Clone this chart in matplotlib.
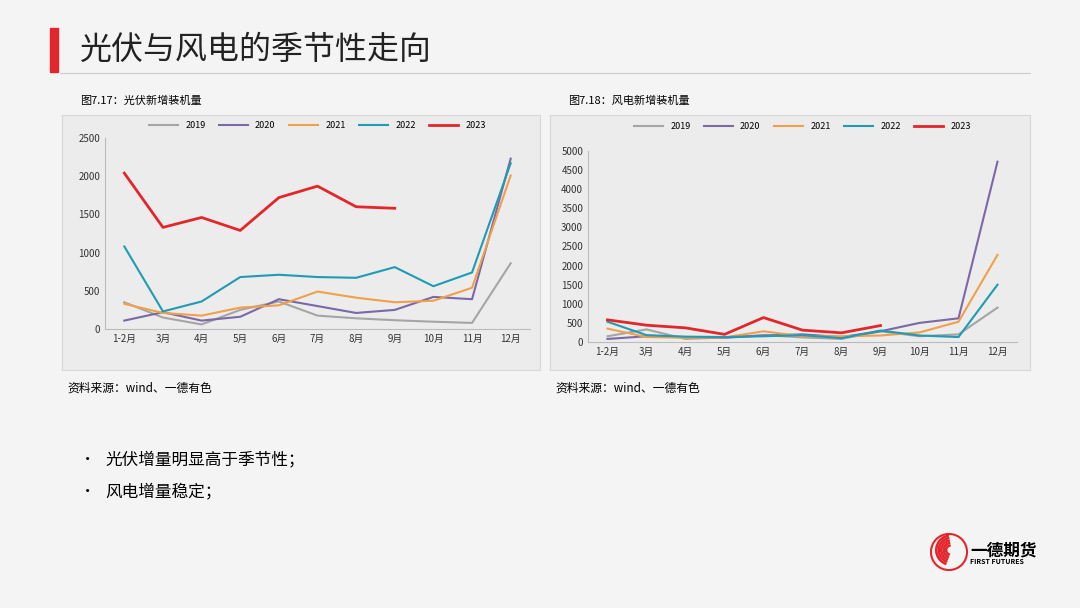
import matplotlib.pyplot as plt
from matplotlib.patches import Rectangle, Wedge, Circle

plt.rcParams["font.family"] = "Noto Sans CJK SC"

MONTHS = ["1-2月", "3月", "4月", "5月", "6月", "7月", "8月", "9月", "10月", "11月", "12月"]
YEARS = ["2019", "2020", "2021", "2022", "2023"]
COLORS = ["#a5a5a5", "#7b68a6", "#f0a04b", "#1f9bb3", "#e3262a"]

pv_2019 = [350, 150, 60, 250, 360, 175, 140, 115, 95, 80, 860]
pv_2020 = [110, 220, 110, 160, 390, 300, 210, 250, 420, 390, 2230]
pv_2021 = [330, 210, 175, 280, 310, 490, 410, 350, 370, 540, 2010]
pv_2022 = [1080, 230, 360, 680, 710, 680, 670, 810, 560, 740, 2170]
pv_2023 = [2040, 1330, 1460, 1290, 1720, 1870, 1600, 1580]

wind_2019 = [150, 330, 80, 120, 180, 120, 80, 280, 150, 200, 900]
wind_2020 = [80, 150, 130, 110, 170, 200, 130, 280, 500, 620, 4720]
wind_2021 = [350, 130, 110, 120, 280, 150, 150, 170, 250, 530, 2280]
wind_2022 = [530, 180, 140, 130, 150, 180, 100, 300, 170, 130, 1500]
wind_2023 = [580, 440, 370, 200, 640, 310, 240, 430]

W, H = 1080, 608
fig = plt.figure(figsize=(W / 100, H / 100), dpi=100, facecolor="#f4f4f4")


def box(x0, y0, x1, y1):
    return [x0 / W, 1 - y1 / H, (x1 - x0) / W, (y1 - y0) / H]


# header
fig.patches.append(Rectangle((50 / W, 1 - 72 / H), 8 / W, 44 / H,
                             transform=fig.transFigure, color="#e3262a"))
fig.text(80 / W, 1 - 50 / H, "光伏与风电的季节性走向", fontsize=23, va="center", color="#222222")
fig.add_artist(plt.Line2D([60 / W, 1030 / W], [1 - 73 / H] * 2, color="#cccccc", lw=0.8))


def panel(px0, py0, px1, py1, ax_box, title, series, ymax, step):
    bg = fig.add_axes(box(px0, py0, px1, py1))
    bg.set_facecolor("#ececec")
    bg.set_xticks([]); bg.set_yticks([])
    for s in bg.spines.values():
        s.set_color("#d8d8d8")
    fig.text(px0 / W + 18 / W, 1 - (py0 - 14) / H, title, fontsize=8, va="center")
    fig.text(px0 / W + 5 / W, 1 - (py1 + 18) / H, "资料来源：wind、一德有色", fontsize=8.5, va="center")
    ax = fig.add_axes(box(*ax_box))
    ax.set_facecolor("none")
    for name, vals, c in zip(YEARS, series, COLORS):
        ax.plot(range(len(vals)), vals, color=c, lw=2.0 if name == "2023" else 1.5, label=name)
    ax.set_xlim(-0.5, len(MONTHS) - 0.5)
    ax.set_ylim(0, ymax)
    ax.set_yticks(range(0, ymax + 1, step))
    ax.set_xticks(range(len(MONTHS)))
    ax.set_xticklabels(MONTHS)
    ax.tick_params(labelsize=7, length=0, colors="#333333")
    for k in ["top", "right"]:
        ax.spines[k].set_visible(False)
    for k in ["left", "bottom"]:
        ax.spines[k].set_color("#bbbbbb")
    ax.legend(loc="lower center", bbox_to_anchor=(0.5, 1.0 if ymax == 2500 else 1.06), ncol=5,
              frameon=False, fontsize=6.5, handlelength=3.2, columnspacing=1.5)


panel(62, 115, 540, 370, (105, 138, 530, 329), "图7.17：光伏新增装机量",
      [pv_2019, pv_2020, pv_2021, pv_2022, pv_2023], 2500, 500)
panel(550, 115, 1030, 370, (588, 151, 1017, 342), "图7.18：风电新增装机量",
      [wind_2019, wind_2020, wind_2021, wind_2022, wind_2023], 5000, 500)

# bullets
fig.text(80 / W, 1 - 460 / H, "•", fontsize=11, va="center")
fig.text(105 / W, 1 - 460 / H, "光伏增量明显高于季节性；", fontsize=12, va="center")
fig.text(80 / W, 1 - 492 / H, "•", fontsize=11, va="center")
fig.text(105 / W, 1 - 492 / H, "风电增量稳定；", fontsize=12, va="center")

# logo
lg = fig.add_axes(box(930, 533, 968, 571))
lg.set_xlim(-1, 1); lg.set_ylim(-1, 1); lg.axis("off")
lg.add_patch(Circle((0, 0), 0.95, fill=False, ec="#e3262a", lw=1.5))
for i in range(5):
    lg.add_patch(Wedge((0.1, 0.1), 0.8 - i * 0.13, 100, 250, width=0.06, color="#e3262a"))
fig.text(970 / W, 1 - 550 / H, "一德期货", fontsize=12, weight="bold", va="center")
fig.text(970 / W, 1 - 562 / H, "FIRST FUTURES", fontsize=5, weight="bold", va="center")

fig.savefig("out.png", dpi=100, facecolor=fig.get_facecolor())
